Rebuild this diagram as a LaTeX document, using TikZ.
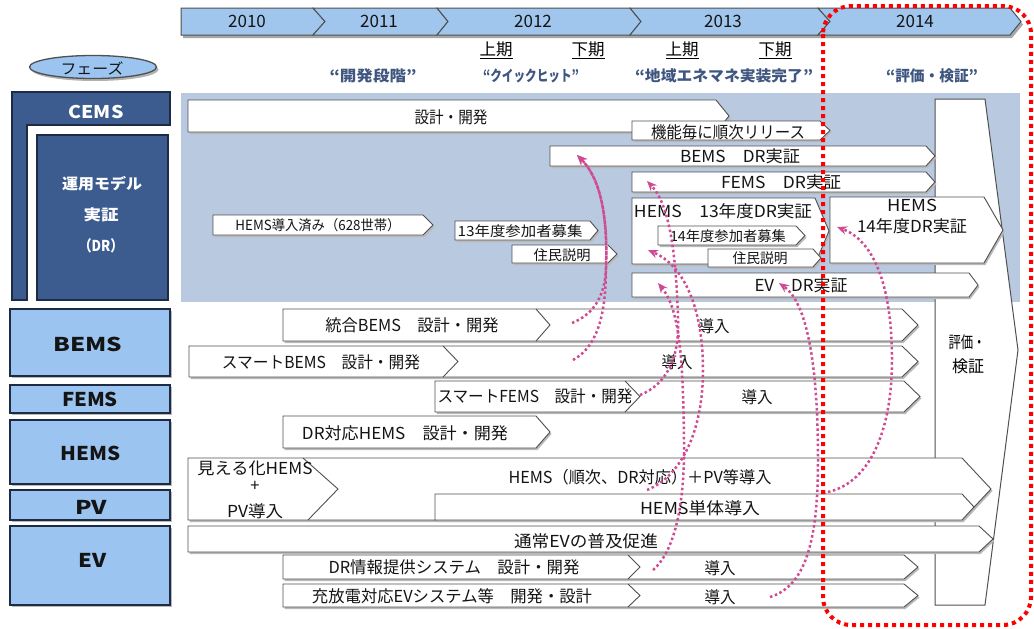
\documentclass[tikz,border=0pt]{standalone}
\usepackage{fontspec}
\setmainfont{Noto Sans CJK JP}
\usepackage{graphicx}
\usetikzlibrary{arrows.meta}
\definecolor{tlblue}{RGB}{160,198,238}
\definecolor{lbblue}{RGB}{155,196,240}
\definecolor{dkblue}{RGB}{60,92,144}
\definecolor{navy}{RGB}{30,43,68}
\definecolor{rgblue}{RGB}{184,201,224}
\definecolor{phtext}{RGB}{62,86,128}
\definecolor{pinkc}{RGB}{208,74,145}
\definecolor{bordc}{RGB}{80,80,80}
\definecolor{txtc}{RGB}{20,20,20}
\newcommand\fitw[2]{\resizebox{#1pt}{\height}{#2}}
\newcommand\fsBar{\fontsize{16.5}{18}\selectfont}
\newcommand\fsSm{\fontsize{14}{16}\selectfont}
\newcommand\fsYear{\fontsize{17}{19}\selectfont}
\newcommand\fsPh{\fontsize{15}{17}\selectfont\bfseries}
\newcommand\fsLeft{\fontsize{19}{21}\selectfont\bfseries}
\newcommand\fsLeftW{\fontsize{15}{17}\selectfont\bfseries}
\newcommand\arrbar[5]{%
 \fill[barshadow] ({#1+1.5},{#2+2}) -- ({#3+1.5},{#2+2}) -- ({#5+1.5},{(#2+#4)/2+2}) -- ({#3+1.5},{#4+2}) -- ({#1+1.5},{#4+2}) -- cycle;
 \filldraw[barstyle] (#1,#2) -- (#3,#2) -- (#5,{(#2+#4)/2}) -- (#3,#4) -- (#1,#4) -- cycle;}
\newcommand\midchev[4]{\draw[barstyle,fill=none] (#1,#2) -- (#4,{(#2+#3)/2}) -- (#1,#3);}
\begin{document}
\begin{tikzpicture}[x=1pt,y=-1pt,
  barstyle/.style={fill=white,draw=bordc,line width=0.9pt,line join=miter},
  barshadow/.style={fill=gray!55},
  tlseg/.style={fill=tlblue,draw=bordc,line width=1pt},
  leftbox/.style={fill=lbblue,draw=navy,line width=1.1pt},
  cemsbox/.style={fill=dkblue,draw=navy,line width=1.1pt},
  lbl/.style={inner sep=0pt,font=\fsBar,text=txtc},
  smlbl/.style={inner sep=0pt,font=\fsSm,text=txtc},
  yearlbl/.style={inner sep=0pt,font=\fsYear,text=txtc},
  hlbl/.style={inner sep=0pt,font=\fsBar,text=black},
  phlbl/.style={inner sep=0pt,font=\fsPh,text=phtext},
  leftlbl/.style={inner sep=0pt,font=\fsLeft,text=txtc},
  whitelbl/.style={inner sep=0pt,font=\fsLeftW,text=white},
  pinkarrow/.style={draw=pinkc,line width=2.5pt,dash pattern=on 2.5pt off 2.6pt,-{Stealth[length=10pt,width=8.5pt]}},
  redbox/.style={draw=red,line width=4pt,dash pattern=on 4pt off 4pt,rounded corners=28pt}
]
\useasboundingbox (0,0) rectangle (1034,629);
\fill[white] (0,0) rectangle (1034,629);

% timeline
\fill[gray!70] (183,11) -- (1012,11) -- (1023,24.5) -- (1012,38) -- (183,38) -- cycle;
\filldraw[tlseg] (181,8) -- (313,8) -- (325,21.5) -- (313,35) -- (181,35) -- cycle;
\filldraw[tlseg] (313,8) -- (437,8) -- (448,21.5) -- (437,35) -- (313,35) -- (325,21.5) -- cycle;
\filldraw[tlseg] (437,8) -- (630,8) -- (641,21.5) -- (630,35) -- (437,35) -- (448,21.5) -- cycle;
\filldraw[tlseg] (630,8) -- (818,8) -- (830,21.5) -- (818,35) -- (630,35) -- (641,21.5) -- cycle;
\filldraw[tlseg] (818,8) -- (1010,8) -- (1021,21.5) -- (1010,35) -- (818,35) -- (830,21.5) -- cycle;
\node[yearlbl] (y2010) at (247,21.5) {2010};
\node[yearlbl] (y2011) at (379,21.5) {2011};
\node[yearlbl] (y2012) at (533,21.5) {2012};
\node[yearlbl] (y2013) at (723,21.5) {2013};
\node[yearlbl] (y2014) at (915,21.5) {2014};

% half-year labels
\node[hlbl] (h1) at (496,50) {\fitw{33}{\underline{上期}}};
\node[hlbl] (h2) at (588,50) {\fitw{33}{\underline{下期}}};
\node[hlbl] (h3) at (682,50) {\fitw{33}{\underline{上期}}};
\node[hlbl] (h4) at (775,50) {\fitw{33}{\underline{下期}}};

% phases
\fill[gray!60] (95,69.5) ellipse [x radius=63.5, y radius=11.5];
\filldraw[fill=lbblue,draw=bordc,line width=1.3pt] (93,67) ellipse [x radius=63.5, y radius=11.5];
\node[inner sep=0pt,font=\fontsize{15}{17}\selectfont,text=txtc] (phase) at (92,68) {\fitw{63}{フェーズ}};
\node[phlbl] (p1) at (373,76) {\fitw{87}{“開発段階”}};
\node[phlbl] (p2) at (531,76) {\fitw{96}{“クイックヒット”}};
\node[phlbl] (p3) at (724,76) {\fitw{178}{“地域エネマネ実装完了”}};
\node[phlbl] (p4) at (932,76) {\fitw{92}{“評価・検証”}};

% left column
\filldraw[cemsbox] (12,92) -- (170,92) -- (170,125) -- (27,125) -- (27,300) -- (12,300) -- cycle;
\filldraw[cemsbox] (37,135) rectangle (168,300);
\node[whitelbl,font=\fontsize{17.5}{19}\selectfont\bfseries] (cems) at (96,112) {\fitw{55}{CEMS}};
\node[whitelbl] (unyo1) at (102,184) {\fitw{80}{運用モデル}};
\node[whitelbl] (unyo2) at (101,215) {\fitw{35}{実証}};
\node[whitelbl] (unyo3) at (101,246) {\fitw{45}{（DR）}};

\foreach \ya/\yb in {309/376,385/413,420/484,490/520,526/605}{
  \fill[gray!55] (12,\ya+2) rectangle (172,\yb+2);
  \filldraw[leftbox] (10,\ya) rectangle (170,\yb);
}
\node[leftlbl] (lbems) at (88,344) {\fitw{69}{BEMS}};
\node[leftlbl] (lfems) at (90,399) {\fitw{56}{FEMS}};
\node[leftlbl] (lhems) at (91,453) {\fitw{60}{HEMS}};
\node[leftlbl] (lpv) at (91,507) {\fitw{32}{PV}};
\node[leftlbl] (lev) at (93,560) {\fitw{28}{EV}};

% CEMS region
\fill[rgblue] (181,93) rectangle (1020,302);

% evaluation box
\filldraw[fill=white,draw=bordc,line width=1pt] (935,99) -- (985,99) -- (1018,350) -- (985,605) -- (935,605) -- cycle;
\node[hlbl] (ev1) at (967,342) {\fitw{37}{評価・}};
\node[hlbl] (ev2) at (968,366) {\fitw{32}{検証}};

% CEMS bars
\arrbar{188}{100}{716}{132}{729}
\node[lbl] (b1) at (451,117) {\fitw{73}{設計・開発}};
\arrbar{632}{121}{820}{140}{830}
\node[lbl] (b2) at (728,132) {\fitw{154}{機能毎に順次リリース}};
\arrbar{550}{146}{926}{166}{935}
\node[lbl] (b3) at (740,156) {\fitw{120}{BEMS　DR実証}};
\arrbar{632}{172}{926}{192}{935}
\node[lbl] (b4) at (781,182) {\fitw{120}{FEMS　DR実証}};
\arrbar{632}{198}{815}{264}{829}
\node[lbl] (b5) at (723,211) {\fitw{178}{HEMS　13年度DR実証}};
\arrbar{658}{226}{796}{245}{805}
\node[smlbl] (b6) at (728,236) {\fitw{116}{14年度参加者募集}};
\arrbar{708}{249}{813}{267}{821}
\node[smlbl] (b7) at (760,258) {\fitw{55}{住民説明}};
\arrbar{830}{197}{984}{263}{1003}
\node[lbl] (b8a) at (912,205) {\fitw{50}{HEMS}};
\node[lbl] (b8b) at (912,226) {\fitw{110}{14年度DR実証}};
\arrbar{632}{273}{969}{297}{978}
\node[lbl] (b9) at (801,285) {\fitw{93}{EV　DR実証}};
\arrbar{213}{215}{423}{235}{433}
\node[smlbl] (b10) at (318,225) {\fitw{165}{HEMS導入済み（628世帯）}};
\arrbar{455}{221}{590}{240}{598}
\node[smlbl] (b11) at (520,231) {\fitw{125}{13年度参加者募集}};
\arrbar{512}{245}{608}{263}{617}
\node[smlbl] (b12) at (562,255) {\fitw{57}{住民説明}};

% lower bars
\arrbar{283}{309}{902}{341}{918}
\midchev{536}{309}{341}{550}
\node[lbl] (c1) at (412,325) {\fitw{173}{統合BEMS　設計・開発}};
\node[lbl] (c1b) at (714,326) {\fitw{31}{導入}};
\arrbar{189}{346}{902}{377}{918}
\midchev{443}{346}{377}{458}
\node[lbl] (c2) at (321,362) {\fitw{198}{スマートBEMS　設計・開発}};
\node[lbl] (c2b) at (677,362) {\fitw{31}{導入}};
\arrbar{435}{381}{904}{412}{920}
\midchev{625}{381}{412}{640}
\node[lbl] (c3) at (535,396) {\fitw{195}{スマートFEMS　設計・開発}};
\node[lbl] (c3b) at (757,397) {\fitw{31}{導入}};
\arrbar{283}{416}{536}{448}{550}
\node[lbl] (c4) at (405,433) {\fitw{206}{DR対応HEMS　設計・開発}};
\arrbar{188}{458}{962}{520}{991}
\draw[barstyle,fill=none] (303,458) -- (338,489) -- (308,520);
\node[lbl] (c5a) at (255,468) {\fitw{115}{見える化HEMS}};
\node[lbl] (c5b) at (255,486) {+};
\node[lbl] (c5c) at (255,511) {\fitw{56}{PV導入}};
\node[lbl] (c5d) at (640,477) {\fitw{263}{HEMS（順次、DR対応）＋PV等導入}};
\arrbar{435}{494}{962}{520}{974}
\node[lbl] (c6) at (700,508) {\fitw{120}{HEMS単体導入}};
\arrbar{188}{526}{979}{552}{993}
\node[lbl] (c7) at (586,541) {\fitw{144}{通常EVの普及促進}};
\arrbar{283}{555}{904}{579}{918}
\midchev{628}{555}{579}{640}
\node[lbl] (c8) at (454,567) {\fitw{251}{DR情報提供システム　設計・開発}};
\node[lbl] (c8b) at (720,568) {\fitw{31}{導入}};
\arrbar{283}{584}{904}{607}{918}
\midchev{628}{584}{607}{640}
\node[lbl] (c9) at (452,596) {\fitw{280}{充放電対応EVシステム等　開発・設計}};
\node[lbl] (c9b) at (720,597) {\fitw{31}{導入}};

% pink arrows
\coordinate (A1s) at (572,323); \coordinate (A2s) at (573,360); \coordinate (Ae) at (577,155);
\coordinate (Bs) at (640,395); \coordinate (Be) at (647,181);
\coordinate (Cs) at (647,490); \coordinate (Ce) at (648,250);
\coordinate (Ds) at (653,570); \coordinate (De) at (658,283);
\coordinate (Es) at (770,597); \coordinate (Ee) at (779,283);
\coordinate (Fs) at (823,493); \coordinate (Fe) at (837,227);
\draw[pinkarrow] (A1s) .. controls (592,315) and (605,298) .. (606,268) .. controls (608,215) and (600,178) .. (Ae);
\draw[pinkarrow] (A2s) .. controls (595,348) and (606,320) .. (606,268) .. controls (608,215) and (600,178) .. (Ae);
\draw[pinkarrow] (Bs) .. controls (666,385) and (680,358) .. (678,318) .. controls (676,255) and (670,205) .. (Be);
\draw[pinkarrow] (Cs) .. controls (682,476) and (703,430) .. (703,370) .. controls (703,310) and (685,266) .. (Ce);
\draw[pinkarrow] (Ds) .. controls (676,550) and (685,500) .. (684,440) .. controls (683,360) and (680,310) .. (De);
\draw[pinkarrow] (Es) .. controls (806,586) and (818,540) .. (818,460) .. controls (818,360) and (806,302) .. (Ee);
\draw[pinkarrow] (Fs) .. controls (870,486) and (892,430) .. (892,360) .. controls (892,282) and (872,240) .. (Fe);

% red dotted frame
\draw[redbox] (823,6) rectangle (1031,625);
\end{tikzpicture}
\end{document}
